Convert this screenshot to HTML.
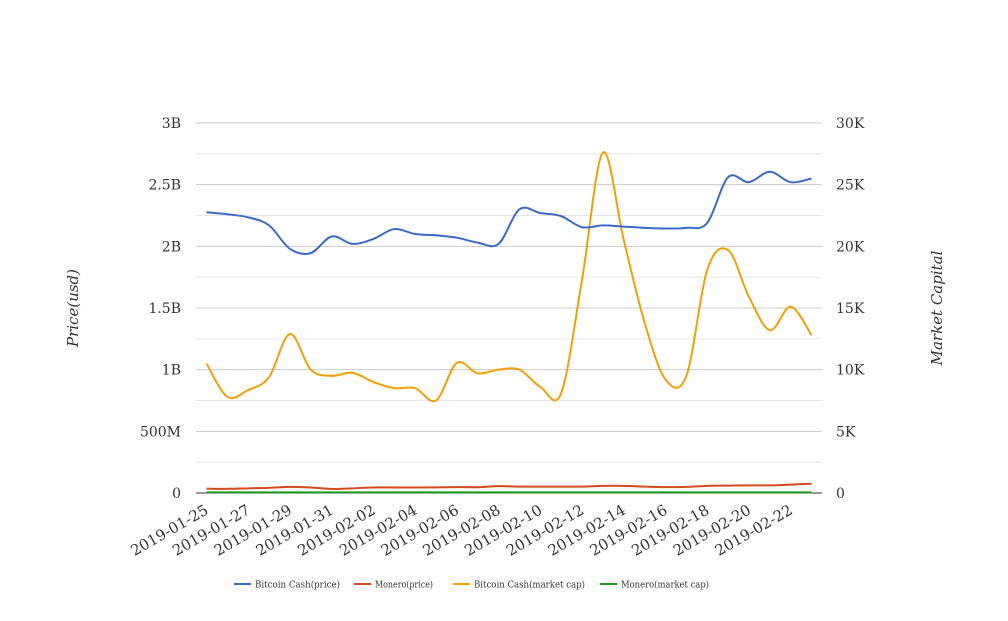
<!DOCTYPE html>
<html><head><meta charset="utf-8"><style>
body{margin:0;background:#fff}
svg text{font-family:"DejaVu Serif","Liberation Serif",serif;fill:#333}
</style></head><body>
<svg id="chart" width="1008" height="616" xmlns="http://www.w3.org/2000/svg">
<g id="grid"></g>
<g id="yl"></g>
<g id="yr"></g>
<g id="xl"></g>
<g id="series"></g>
<text transform="translate(78,308) rotate(-90)" text-anchor="middle" font-size="15" font-style="italic">Price(usd)</text>
<text transform="translate(942,308) rotate(-90)" text-anchor="middle" font-size="15" font-style="italic">Market Capital</text>
<g id="legend"></g>
</svg>
<script>
const dates=["2019-01-25","2019-01-26","2019-01-27","2019-01-28","2019-01-29","2019-01-30","2019-01-31","2019-02-01","2019-02-02","2019-02-03","2019-02-04","2019-02-05","2019-02-06","2019-02-07","2019-02-08","2019-02-09","2019-02-10","2019-02-11","2019-02-12","2019-02-13","2019-02-14","2019-02-15","2019-02-16","2019-02-17","2019-02-18","2019-02-19","2019-02-20","2019-02-21","2019-02-22","2019-02-23"];
const bchPrice=[2.276,2.26,2.235,2.17,1.98,1.945,2.08,2.02,2.06,2.14,2.10,2.09,2.07,2.03,2.02,2.30,2.27,2.245,2.155,2.17,2.16,2.15,2.145,2.15,2.19,2.56,2.52,2.605,2.52,2.55];
const xmrPrice=[0.035,0.034,0.038,0.042,0.05,0.045,0.033,0.038,0.045,0.045,0.045,0.046,0.048,0.047,0.056,0.052,0.052,0.052,0.052,0.058,0.058,0.052,0.048,0.05,0.058,0.06,0.062,0.062,0.068,0.075];
const bchCap=[10.5,7.8,8.35,9.4,12.9,10.0,9.5,9.75,9.0,8.5,8.5,7.5,10.55,9.7,10.0,10.0,8.6,8.1,17.3,27.6,20.5,13.8,9.2,9.5,18.1,19.7,15.9,13.2,15.1,12.8];
const xmrCap=[0.05,0.05,0.05,0.05,0.05,0.05,0.05,0.05,0.05,0.05,0.05,0.05,0.05,0.05,0.05,0.05,0.05,0.05,0.05,0.05,0.05,0.05,0.05,0.05,0.05,0.05,0.05,0.05,0.05,0.05];
const leftTicks=["0","500M","1B","1.5B","2B","2.5B","3B"];
const rightTicks=["0","5K","10K","15K","20K","25K","30K"];
const NS="http://www.w3.org/2000/svg";
const X0=196,X1=822,Y0=493,Y1=123;
const step=(X1-X0)/dates.length;
const xs=i=>X0+(i+0.5)*step;
const yL=v=>Y0-(v/3)*(Y0-Y1);
const yR=v=>Y0-(v/30)*(Y0-Y1);
function mk(t,a,p){const e=document.createElementNS(NS,t);for(const k in a)e.setAttribute(k,a[k]);p.appendChild(e);return e;}
const grid=document.getElementById('grid');
for(let k=0;k<=12;k++){const y=Y0-k*(Y0-Y1)/12;
 const l=mk('line',{x1:X0,x2:X1,y1:y,y2:y,stroke:k%2?'#e6e6e6':'#cccccc','stroke-width':1},grid);
 
 }
const base=mk('line',{x1:X0,x2:X1,y1:Y0,y2:Y0,stroke:'#333','stroke-width':1},grid);


const yl=document.getElementById('yl'),yr=document.getElementById('yr');
leftTicks.forEach((t,k)=>{const y=Y0-k*(Y0-Y1)/6;
 const e=mk('text',{x:181,y:y+5,'text-anchor':'end','font-size':14},yl);e.textContent=t;
 
 });
rightTicks.forEach((t,k)=>{const y=Y0-k*(Y0-Y1)/6;
 const e=mk('text',{x:836,y:y+5,'text-anchor':'start','font-size':14},yr);e.textContent=t;
 
 });
const xl=document.getElementById('xl');
dates.forEach((d,i)=>{if(i%2)return;const x=xs(i);
 const e=mk('text',{transform:`translate(${x+3},${Y0+20}) rotate(-30)`,'text-anchor':'end','font-size':15},xl);e.textContent=d;
 
 });
function path(vals,fy){const p=vals.map((v,i)=>[xs(i),fy(v)]);let d=`M${p[0][0]},${p[0][1]}`;
 for(let i=0;i<p.length-1;i++){const a=p[Math.max(0,i-1)],b=p[i],c=p[i+1],e=p[Math.min(p.length-1,i+2)];const t=1/6;
  d+=` C${b[0]+(c[0]-a[0])*t},${b[1]+(c[1]-a[1])*t} ${c[0]-(e[0]-b[0])*t},${c[1]-(e[1]-b[1])*t} ${c[0]},${c[1]}`;}
 return d;}
const S=document.getElementById('series');
const defs=[[xmrCap,yR,'#1a9a1a'],[xmrPrice,yL,'#d24a1e'],[bchCap,yR,'#f5a000'],[bchPrice,yL,'#3a6bc8']];
const names=["monero-cap-line","monero-price-line","bitcoin-cash-cap-line","bitcoin-cash-price-line"];
defs.forEach((s,k)=>{const e=mk('path',{d:path(s[0],s[1]),fill:'none',stroke:s[2],'stroke-width':2},S);
 
 });
const L=document.getElementById('legend');
const leg=[['#3a6bc8','Bitcoin Cash(price)',229,85],['#d24a1e','Monero(price)',349,58],['#f5a000','Bitcoin Cash(market cap)',448,111],['#1a9a1a','Monero(market cap)',595,88]];
leg.forEach(l=>{const g=mk('g',{},L);
 
 
 mk('line',{x1:l[2]+5,x2:l[2]+22,y1:584,y2:584,stroke:l[0],'stroke-width':2},g);
 const t=mk('text',{x:l[2]+26,y:587.5,'font-size':9,textLength:l[3],lengthAdjust:'spacingAndGlyphs'},g);t.textContent=l[1];});
</script>
</body></html>
